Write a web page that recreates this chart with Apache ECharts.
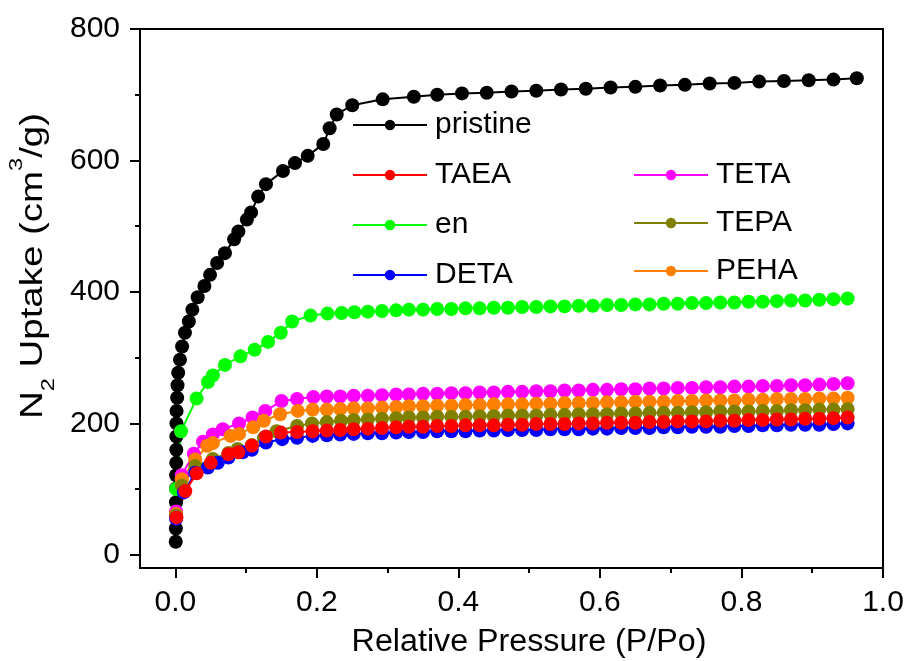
<!DOCTYPE html>
<html>
<head>
<meta charset="utf-8">
<script src="https://cdn.jsdelivr.net/npm/echarts@6/dist/echarts.min.js"></script>
<style>
  html, body { margin: 0; padding: 0; background: #fff; }
  #chart { width: 909px; height: 661px; }
</style>
</head>
<body>
<div id="chart"></div>
<script>
// N2 adsorption isotherms: relative pressure (P/Po) vs uptake (cm3/g)

// Plateau region pressures shared by the amine-modified samples
const plateauP = [0.33, 0.35, 0.37, 0.39, 0.41, 0.43, 0.45, 0.47, 0.49, 0.51, 0.53, 0.55, 0.57, 0.59, 0.61, 0.63,
                  0.65, 0.67, 0.69, 0.71, 0.73, 0.75, 0.77, 0.79, 0.81, 0.83, 0.85, 0.87, 0.89, 0.91, 0.93, 0.95];

// pristine: [P/Po, uptake]
const pristine = [
  [0.0005, 20], [0.0007, 40], [0.0008, 60], [0.0009, 80], [0.001, 101], [0.0011, 121], [0.0012, 140],
  [0.0013, 160], [0.0014, 180], [0.0015, 200], [0.0017, 219], [0.0025, 239], [0.003, 258], [0.004, 277],
  [0.0065, 297], [0.0095, 317], [0.0135, 338], [0.019, 355], [0.024, 373], [0.0315, 392], [0.041, 409],
  [0.049, 426], [0.059, 444], [0.070, 459], [0.083, 480], [0.089, 492], [0.101, 510], [0.107, 521],
  [0.117, 545], [0.128, 564], [0.152, 584], [0.169, 596], [0.187, 607], [0.209, 625], [0.218, 649],
  [0.228, 670], [0.250, 684], [0.293, 693], [0.337, 697], [0.37, 700], [0.405, 702], [0.44, 703],
  [0.475, 705], [0.51, 706], [0.545, 708], [0.58, 709], [0.615, 711], [0.65, 712], [0.685, 714],
  [0.72, 715], [0.755, 717], [0.79, 718], [0.825, 720], [0.86, 721], [0.895, 722], [0.93, 723], [0.963, 725]
];

// Low-pressure uptake branches: [P/Po, uptake]
const enRise = [[0.001, 100], [0.008, 188], [0.03, 238], [0.046, 263], [0.053, 273], [0.07, 289], [0.092, 302],
  [0.112, 312], [0.131, 324], [0.149, 338], [0.165, 355], [0.191, 364], [0.215, 367], [0.235, 368],
  [0.253, 369], [0.272, 370], [0.292, 371], [0.312, 372]];
const tetaRise = [[0.001, 66], [0.009, 121], [0.026, 154], [0.039, 172], [0.053, 183], [0.067, 191], [0.090, 200],
  [0.109, 209], [0.127, 219], [0.150, 234], [0.172, 237], [0.195, 240], [0.214, 241], [0.233, 241],
  [0.252, 242], [0.272, 242], [0.292, 243], [0.312, 244]];
const pehaRise = [[0.001, 62], [0.009, 115], [0.028, 145], [0.045, 166], [0.053, 170], [0.078, 181], [0.090, 184],
  [0.110, 194], [0.125, 204], [0.148, 214], [0.173, 219], [0.194, 221], [0.214, 221], [0.233, 222],
  [0.252, 223], [0.272, 223], [0.292, 224], [0.312, 225]];
const tepaRise = [[0.001, 60], [0.009, 105], [0.028, 135], [0.053, 146], [0.075, 155], [0.088, 161], [0.108, 167],
  [0.125, 178], [0.143, 188], [0.172, 196], [0.193, 200], [0.214, 202], [0.234, 204], [0.252, 205],
  [0.272, 206], [0.292, 207], [0.312, 208]];
const taeaRise = [[0.0015, 57], [0.014, 97], [0.030, 124], [0.050, 140], [0.075, 153], [0.089, 156], [0.108, 166],
  [0.128, 180], [0.149, 186], [0.172, 187], [0.194, 188], [0.214, 189], [0.233, 190], [0.252, 191],
  [0.272, 192], [0.292, 193], [0.312, 194]];
const detaRise = [[0.001, 55], [0.012, 95], [0.028, 125], [0.046, 133], [0.060, 140], [0.075, 148], [0.095, 156],
  [0.108, 160], [0.128, 171], [0.151, 176], [0.172, 178], [0.194, 181], [0.214, 182], [0.233, 183],
  [0.252, 184], [0.272, 185], [0.292, 185], [0.312, 186]];

// Plateau uptake values at plateauP
const enPlateau = [373, 373, 374, 374, 375, 375, 376, 376, 377, 377, 378, 378, 379, 379, 380, 380,
                   381, 381, 382, 382, 383, 383, 384, 384, 385, 385, 386, 387, 387, 388, 389, 390];
const tetaPlateau = [244, 245, 245, 246, 246, 247, 247, 248, 248, 249, 249, 250, 250, 251, 251, 252,
                     252, 253, 253, 254, 254, 255, 255, 256, 256, 257, 257, 258, 258, 259, 260, 261];
const pehaPlateau = [226, 226, 227, 227, 228, 228, 229, 229, 229, 230, 230, 231, 231, 231, 232, 232,
                     233, 233, 233, 234, 234, 235, 235, 235, 236, 236, 237, 237, 237, 238, 238, 239];
const tepaPlateau = [209, 209, 210, 210, 210, 211, 211, 212, 212, 212, 213, 213, 214, 214, 214, 215,
                     215, 216, 216, 216, 217, 217, 218, 218, 218, 219, 219, 220, 220, 221, 221, 222];
const taeaPlateau = [195, 195, 196, 196, 197, 197, 197, 198, 198, 199, 199, 199, 200, 200, 201, 201,
                     201, 202, 202, 203, 203, 203, 204, 204, 205, 205, 206, 206, 207, 207, 208, 209];
const detaPlateau = [187, 187, 188, 188, 188, 189, 189, 190, 190, 190, 191, 191, 191, 192, 192, 193,
                     193, 193, 194, 194, 195, 195, 195, 196, 196, 197, 197, 198, 198, 198, 199, 200];

// Axis ticks
const xMajor = [0, 0.2, 0.4, 0.6, 0.8, 1.0];
const xMinor = [0.1, 0.3, 0.5, 0.7, 0.9];
const yMajor = [0, 200, 400, 600, 800];
const yMinor = [100, 300, 500, 700];

const FONT = 'Liberation Sans';

function joinBranch(rise, plateau) {
  return rise.concat(plateauP.map((p, i) => [p, plateau[i]]));
}

// drawing order: later series sit on top
const seriesDefs = [
  { name: 'pristine', color: '#000000', data: pristine },
  { name: 'en', color: '#00ff00', data: joinBranch(enRise, enPlateau) },
  { name: 'TETA', color: '#ff00ff', data: joinBranch(tetaRise, tetaPlateau) },
  { name: 'PEHA', color: '#ff8000', data: joinBranch(pehaRise, pehaPlateau) },
  { name: 'TEPA', color: '#808000', data: joinBranch(tepaRise, tepaPlateau) },
  { name: 'DETA', color: '#0000ff', data: joinBranch(detaRise, detaPlateau) },
  { name: 'TAEA', color: '#ff0000', data: joinBranch(taeaRise, taeaPlateau) }
];

const chart = echarts.init(document.getElementById('chart'), null, { renderer: 'canvas' });

const lineBlack = { color: '#000', width: 2 };

function valueAxis(extra) {
  return Object.assign({
    type: 'value',
    splitLine: { show: false },
    axisLine: { show: true, onZero: false, lineStyle: lineBlack }
  }, extra);
}

const legendCommon = {
  orient: 'vertical',
  padding: 0,
  itemWidth: 74,
  itemHeight: 13,
  textStyle: { fontFamily: FONT, fontSize: 30, color: '#000', lineHeight: 30, padding: [0, 0, 0, 3] },
  selectedMode: false
};

const option = {
  animation: false,
  backgroundColor: '#fff',
  grid: {
    left: 140, right: 26, top: 29, bottom: 93,
    show: true, borderColor: '#000', borderWidth: 2, backgroundColor: 'transparent'
  },
  legend: [
    Object.assign({}, legendCommon, { left: 352, top: 110, itemGap: 20, data: ['pristine', 'TAEA', 'en', 'DETA'] }),
    Object.assign({}, legendCommon, { left: 633, top: 160, itemGap: 18, data: ['TETA', 'TEPA', 'PEHA'] })
  ],
  xAxis: [
    valueAxis({
      position: 'bottom', min: -0.05, max: 1.0,
      axisTick: { show: true, length: 10, lineStyle: lineBlack, customValues: xMajor },
      axisLabel: {
        customValues: xMajor, margin: 20, fontFamily: FONT, fontSize: 30, color: '#000', lineHeight: 30,
        formatter: v => v.toFixed(1)
      }
    }),
    valueAxis({
      position: 'bottom', min: -0.05, max: 1.0,
      axisLine: { show: false, onZero: false },
      axisTick: { show: true, length: 5, lineStyle: lineBlack, customValues: xMinor },
      axisLabel: { show: false }
    })
  ],
  yAxis: [
    valueAxis({
      position: 'left', min: -20, max: 800,
      axisTick: { show: true, length: 10, lineStyle: lineBlack, customValues: yMajor },
      axisLabel: { customValues: yMajor, margin: 20, fontFamily: FONT, fontSize: 30, color: '#000' }
    }),
    valueAxis({
      position: 'left', min: -20, max: 800,
      axisLine: { show: false, onZero: false },
      axisTick: { show: true, length: 5, lineStyle: lineBlack, customValues: yMinor },
      axisLabel: { show: false }
    })
  ],
  graphic: [
    {
      type: 'text', x: 529, y: 642, scaleX: 1.04,
      style: {
        text: 'Relative Pressure (P/Po)', fill: '#000',
        font: '31px "' + FONT + '"', align: 'center', verticalAlign: 'middle'
      }
    },
    {
      type: 'text', x: 33, y: 266, rotation: Math.PI / 2, scaleX: 1.24,
      style: {
        text: '{n|N}{s|2}{n| Uptake (cm}{p|3}{n|/g)}',
        fill: '#000', align: 'center', verticalAlign: 'middle',
        rich: {
          n: { fontFamily: FONT, fontSize: 31, lineHeight: 51, fill: '#000' },
          s: { fontFamily: FONT, fontSize: 19, lineHeight: 17, verticalAlign: 'bottom', fill: '#000' },
          p: { fontFamily: FONT, fontSize: 19, lineHeight: 23, verticalAlign: 'top', fill: '#000' }
        }
      }
    }
  ],
  series: seriesDefs.map(s => ({
    name: s.name,
    type: 'line',
    xAxisIndex: 0,
    yAxisIndex: 0,
    data: s.data,
    symbol: 'circle',
    symbolSize: 14,
    showSymbol: true,
    showAllSymbol: true,
    color: s.color,
    itemStyle: { color: s.color },
    lineStyle: { color: s.color, width: 2 },
    emphasis: { disabled: true }
  }))
};

chart.setOption(option);
</script>
</body>
</html>
